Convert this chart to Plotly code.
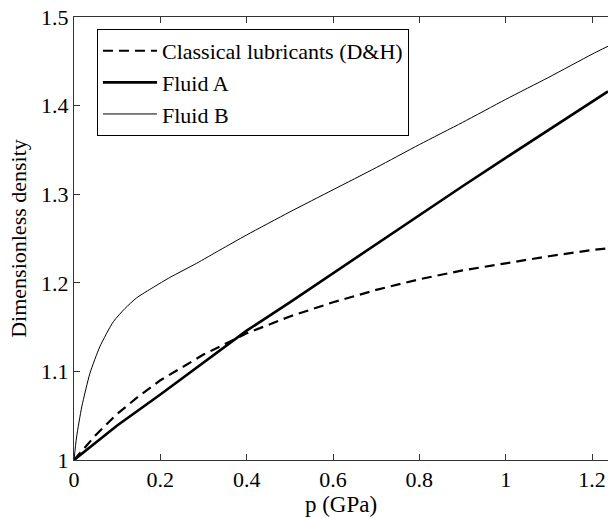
import plotly.graph_objects as go

# Classical lubricants (D&H)
p_dh = [0, 0.05, 0.1, 0.15, 0.2, 0.3, 0.4, 0.5, 0.6, 0.7, 0.8, 0.9, 1.0, 1.1, 1.2, 1.237]
rho_dh = [1, 1.028, 1.052, 1.072, 1.090, 1.119, 1.143, 1.162, 1.178, 1.192, 1.204, 1.214, 1.222, 1.230, 1.237, 1.239]

# Fluid A
p_a = [0, 0.05, 0.1, 0.2, 0.3, 0.4, 0.5, 0.6, 0.7, 0.8, 0.9, 1.0, 1.1, 1.2, 1.237]
rho_a = [1, 1.020, 1.039, 1.074, 1.110, 1.146, 1.178, 1.211, 1.244, 1.276, 1.309, 1.341, 1.373, 1.404, 1.416]

# Fluid B
p_b = [0, 0.006, 0.018, 0.037, 0.06, 0.091, 0.118, 0.145, 0.184, 0.222, 0.284, 0.338,
       0.4, 0.5, 0.6, 0.7, 0.8, 0.9, 1.0, 1.1, 1.2, 1.237]
rho_b = [1, 1.026, 1.060, 1.098, 1.128, 1.156, 1.171, 1.183, 1.195, 1.206, 1.222, 1.237,
         1.254, 1.280, 1.305, 1.330, 1.356, 1.381, 1.407, 1.432, 1.458, 1.467]

x_ticks = [0, 0.2, 0.4, 0.6, 0.8, 1.0, 1.2]
x_tick_labels = ["0", "0.2", "0.4", "0.6", "0.8", "1", "1.2"]
y_ticks = [1, 1.1, 1.2, 1.3, 1.4, 1.5]
y_tick_labels = ["1", "1.1", "1.2", "1.3", "1.4", "1.5"]

FONT = "Liberation Serif"

fig = go.Figure()
fig.add_trace(go.Scatter(x=p_dh, y=rho_dh, mode="lines", name="Classical lubricants (D&H)",
                         line=dict(color="black", width=2.2, dash="10px,6px")))
fig.add_trace(go.Scatter(x=p_a, y=rho_a, mode="lines", name="Fluid A",
                         line=dict(color="black", width=2.6)))
fig.add_trace(go.Scatter(x=p_b, y=rho_b, mode="lines", name="Fluid B",
                         line=dict(color="black", width=1, shape="spline", smoothing=0.6)))

fig.update_layout(
    width=608, height=518,
    margin=dict(l=74, r=0, t=17, b=58),
    paper_bgcolor="white", plot_bgcolor="white",
    font=dict(family=FONT, size=22, color="black"),
    showlegend=True,
    legend=dict(x=0.043, y=0.973, xanchor="left", yanchor="top",
                bordercolor="black", borderwidth=1, bgcolor="white",
                font=dict(family=FONT, size=22, color="black"),
                tracegroupgap=0, itemwidth=54),
    xaxis=dict(range=[0, 1.237], tickvals=x_ticks, ticktext=x_tick_labels,
               ticks="inside", ticklen=6, tickcolor="#333", showline=True,
               linecolor="#333", linewidth=1, mirror="allticks", showgrid=False,
               zeroline=False,
               title=dict(text="p (GPa)", standoff=4, font=dict(size=23))),
    yaxis=dict(range=[1, 1.5], tickvals=y_ticks, ticktext=y_tick_labels,
               ticks="inside", ticklen=6, tickcolor="#333", showline=True,
               linecolor="#333", linewidth=1, mirror=False, showgrid=False,
               zeroline=False,
               title=dict(text="Dimensionless density", standoff=8, font=dict(size=22))),
)

fig.write_html("out.html")
